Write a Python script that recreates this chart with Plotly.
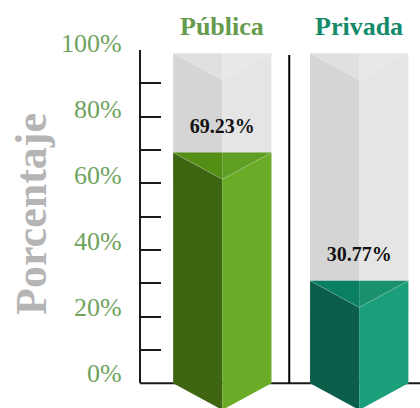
import plotly.graph_objects as go

# ---- data -------------------------------------------------------------
categories = ["Pública", "Privada"]
percentages = [69.23, 30.77]
tick_values = [0, 20, 40, 60, 80, 100]
tick_labels = ["0%", "20%", "40%", "60%", "80%", "100%"]

# ---- styling ------------------------------------------------------------
left_face = ["#3e6511", "#0a5e4a"]
right_face = ["#6aac28", "#1b9e7a"]
top_left_face = ["#538f14", "#0b8060"]
top_right_face = ["#5e9e23", "#19916e"]
title_colors = ["#649b4c", "#138a6a"]
track_left, track_right = "#d5d5d5", "#e5e5e5"
track_top_left, track_top_right = "#e0e0e0", "#e8e8e8"

SERIF = "Liberation Serif, Times New Roman, serif"
TRACK_TOP = 99.0     # height of the grey column behind each bar
HALF_W = 0.359       # half width of a column, in category units
DEPTH = 8.0          # depth of the V-shaped top / bottom faces, in % units
AXIS_COLOR = "#1a1a1a"

W, H = 420, 408
Y0_PX, Y100_PX = 383.3, 50.0          # pixel rows of 0 % and 100 %
PX_PER_UNIT = (Y0_PX - Y100_PX) / 100.0
X_UNIT_PX = 136.9                      # pixels between category centres
X0_PX = 222.3                          # pixel column of the first category

fig = go.Figure()


def poly(xs, ys, color):
    fig.add_trace(go.Scatter(
        x=xs + [xs[0]], y=ys + [ys[0]], mode="lines", fill="toself",
        fillcolor=color, line=dict(width=0, color=color),
        hoverinfo="skip", showlegend=False,
    ))


for i, (cat, v) in enumerate(zip(categories, percentages)):
    c = i
    l, r = c - HALF_W, c + HALF_W
    # grey track
    poly([l, c, c, l], [TRACK_TOP, TRACK_TOP - DEPTH, 0, 0], track_left)
    poly([c, r, r, c], [TRACK_TOP - DEPTH, TRACK_TOP, 0, 0], track_right)
    poly([l, c, c], [TRACK_TOP, TRACK_TOP, TRACK_TOP - DEPTH], track_top_left)
    poly([c, r, c], [TRACK_TOP, TRACK_TOP, TRACK_TOP - DEPTH], track_top_right)
    # coloured prism
    poly([l, c, c, l], [v, v - DEPTH, -DEPTH, 0], left_face[i])
    poly([c, r, r, c], [v - DEPTH, v, 0, -DEPTH], right_face[i])
    poly([l, c, c], [v, v, v - DEPTH], top_left_face[i])
    poly([c, r, c], [v, v, v - DEPTH], top_right_face[i])
    # faint highlight along the top edges
    fig.add_trace(go.Scatter(
        x=[l, c, r], y=[v, v - DEPTH, v], mode="lines",
        line=dict(width=1, color="rgba(255,255,255,0.22)"),
        hoverinfo="skip", showlegend=False,
    ))

# value labels above each bar
fig.add_trace(go.Scatter(
    x=list(range(len(categories))), y=[v + 7.5 for v in percentages],
    mode="text", text=[f"{v:.2f}%" for v in percentages],
    textposition="middle center",
    textfont=dict(family=SERIF, size=20, color="#111111", weight="bold"),
    hoverinfo="skip", showlegend=False, cliponaxis=False,
))

# invisible trace that carries the visible percentage axis
fig.add_trace(go.Scatter(x=[None], y=[None], yaxis="y2", showlegend=False))

# category headings
for i, cat in enumerate(categories):
    fig.add_annotation(
        x=i, xref="x", y=1 - 27 / H, yref="paper", text=f"<b>{cat}</b>",
        showarrow=False, xanchor="center", yanchor="middle",
        font=dict(family=SERIF, size=26, color=title_colors[i]),
    )

# percentage tick labels
for tv, tl in zip(tick_values, tick_labels):
    fig.add_annotation(
        x=124 / W, xref="paper", y=tv, yref="y", text=tl, showarrow=False,
        xanchor="right", yanchor="middle", yshift=7 + (100 - tv) * 0.03,
        font=dict(family=SERIF, size=26, color="#6fa35e"),
    )

# axis title
fig.add_annotation(
    x=31 / W, xref="paper", y=1 - 214 / H, yref="paper",
    text="<b>Porcentaje</b>", textangle=-90, showarrow=False,
    xanchor="center", yanchor="middle",
    font=dict(family=SERIF, size=44, color="#b5b5b5"),
)

# baseline and separator
fig.add_shape(type="line", xref="paper", x0=140 / W, x1=1, yref="y", y0=0, y1=0,
              line=dict(color=AXIS_COLOR, width=2), layer="below")
fig.add_shape(type="line", xref="x", x0=0.489, x1=0.489, yref="y", y0=0, y1=98.5,
              line=dict(color="#000000", width=2), layer="below")

fig.update_layout(
    width=W, height=H,
    margin=dict(l=0, r=0, t=0, b=0),
    paper_bgcolor="white", plot_bgcolor="rgba(0,0,0,0)",
    showlegend=False,
    xaxis=dict(domain=[0, 1],
               range=[-X0_PX / X_UNIT_PX, (W - X0_PX) / X_UNIT_PX],
               visible=False, fixedrange=True),
    yaxis=dict(domain=[0, 1],
               range=[-(H - Y0_PX) / PX_PER_UNIT, 100 + Y100_PX / PX_PER_UNIT],
               visible=False, fixedrange=True),
    yaxis2=dict(domain=[(H - Y0_PX) / H, (H - Y100_PX) / H], range=[0, 100],
                anchor="free", position=140 / W,
                showline=True, linecolor=AXIS_COLOR, linewidth=2,
                ticks="inside", ticklen=20, tickwidth=2, tickcolor=AXIS_COLOR,
                tick0=0, dtick=10, showticklabels=False,
                showgrid=False, zeroline=False, fixedrange=True),
)

fig.write_html("out.html", config={"displayModeBar": False})
